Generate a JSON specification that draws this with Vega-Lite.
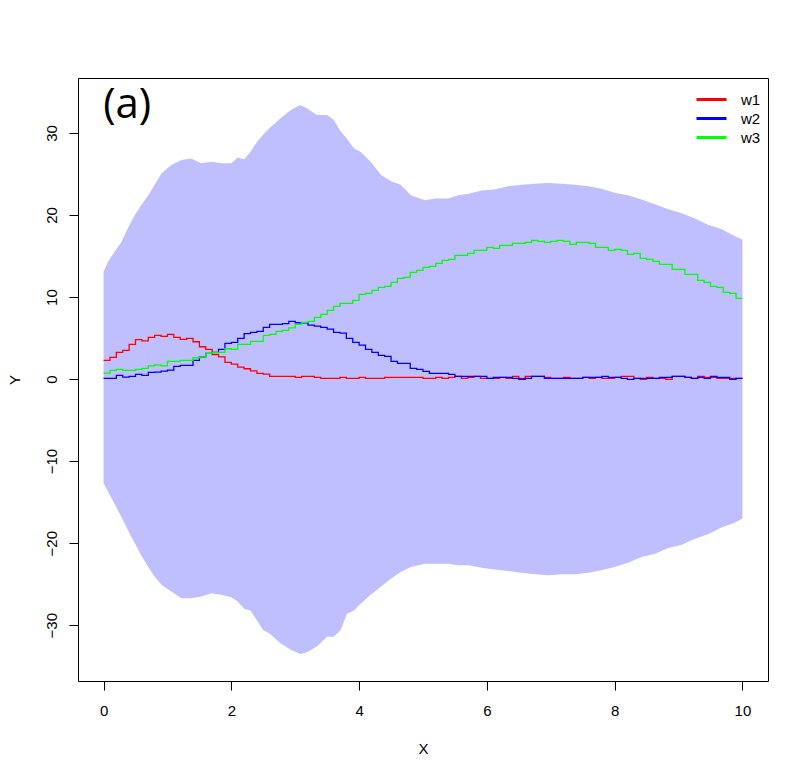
{
  "$schema": "https://vega.github.io/schema/vega-lite/v6.json",
  "width": 690,
  "height": 603,
  "autosize": "none",
  "padding": {"left": 78, "top": 78, "right": 40, "bottom": 98},
  "background": "white",
  "config": {
    "view": {"stroke": "black", "strokeWidth": 1},
    "font": "Liberation Sans",
    "axis": {"labelColor": "black", "titleColor": "black", "tickColor": "black", "labelFont": "Liberation Sans", "titleFont": "Liberation Sans", "titleFontWeight": "normal"}
  },
  "datasets": {
    "band": [
      {"x": 0, "hi": 13.1, "lo": -12.7},
      {"x": 0.07, "hi": 14.3, "lo": -13.7},
      {"x": 0.17, "hi": 15.5, "lo": -15.2},
      {"x": 0.28, "hi": 16.7, "lo": -16.8},
      {"x": 0.38, "hi": 18.4, "lo": -18.4},
      {"x": 0.49, "hi": 20.0, "lo": -20.0},
      {"x": 0.59, "hi": 21.2, "lo": -21.5},
      {"x": 0.7, "hi": 22.4, "lo": -22.9},
      {"x": 0.8, "hi": 23.7, "lo": -24.1},
      {"x": 0.91, "hi": 25.1, "lo": -25.1},
      {"x": 1.06, "hi": 26.1, "lo": -25.9},
      {"x": 1.22, "hi": 26.7, "lo": -26.7},
      {"x": 1.37, "hi": 26.9, "lo": -26.7},
      {"x": 1.53, "hi": 26.3, "lo": -26.5},
      {"x": 1.69, "hi": 26.5, "lo": -26.1},
      {"x": 1.84, "hi": 26.3, "lo": -26.3},
      {"x": 2.0, "hi": 26.3, "lo": -26.6},
      {"x": 2.1, "hi": 27.0, "lo": -27.1},
      {"x": 2.2, "hi": 26.8, "lo": -28.0},
      {"x": 2.3, "hi": 27.7, "lo": -28.2},
      {"x": 2.4, "hi": 28.9, "lo": -29.4},
      {"x": 2.5, "hi": 29.8, "lo": -30.6},
      {"x": 2.6, "hi": 30.6, "lo": -31.0},
      {"x": 2.77, "hi": 31.8, "lo": -32.2},
      {"x": 2.93, "hi": 32.8, "lo": -33.0},
      {"x": 3.08, "hi": 33.4, "lo": -33.5},
      {"x": 3.18, "hi": 33.0, "lo": -33.3},
      {"x": 3.34, "hi": 32.2, "lo": -32.6},
      {"x": 3.5, "hi": 32.2, "lo": -31.4},
      {"x": 3.6, "hi": 31.6, "lo": -31.4},
      {"x": 3.71, "hi": 30.2, "lo": -30.6},
      {"x": 3.81, "hi": 29.3, "lo": -28.6},
      {"x": 3.92, "hi": 28.1, "lo": -28.2},
      {"x": 4.02, "hi": 27.7, "lo": -27.4},
      {"x": 4.18, "hi": 26.5, "lo": -26.3},
      {"x": 4.34, "hi": 24.9, "lo": -25.3},
      {"x": 4.5, "hi": 24.1, "lo": -24.3},
      {"x": 4.65, "hi": 23.7, "lo": -23.5},
      {"x": 4.81, "hi": 22.4, "lo": -22.9},
      {"x": 5.03, "hi": 21.8, "lo": -22.5},
      {"x": 5.19, "hi": 22.0, "lo": -22.5},
      {"x": 5.4, "hi": 22.0, "lo": -22.5},
      {"x": 5.55, "hi": 22.4, "lo": -22.7},
      {"x": 5.71, "hi": 22.6, "lo": -22.7},
      {"x": 5.92, "hi": 23.0, "lo": -23.0},
      {"x": 6.12, "hi": 23.1, "lo": -23.2},
      {"x": 6.33, "hi": 23.5, "lo": -23.4},
      {"x": 6.54, "hi": 23.7, "lo": -23.6},
      {"x": 6.75, "hi": 23.8, "lo": -23.8},
      {"x": 6.96, "hi": 23.9, "lo": -23.9},
      {"x": 7.17, "hi": 23.8, "lo": -23.8},
      {"x": 7.38, "hi": 23.7, "lo": -23.8},
      {"x": 7.59, "hi": 23.5, "lo": -23.6},
      {"x": 7.79, "hi": 23.2, "lo": -23.3},
      {"x": 8.0, "hi": 22.7, "lo": -22.9},
      {"x": 8.21, "hi": 22.4, "lo": -22.4},
      {"x": 8.42, "hi": 21.9, "lo": -21.7},
      {"x": 8.63, "hi": 21.3, "lo": -21.3},
      {"x": 8.84, "hi": 20.7, "lo": -20.6},
      {"x": 9.05, "hi": 20.2, "lo": -20.2},
      {"x": 9.25, "hi": 19.6, "lo": -19.5},
      {"x": 9.46, "hi": 18.8, "lo": -18.9},
      {"x": 9.67, "hi": 18.3, "lo": -18.1},
      {"x": 9.88, "hi": 17.4, "lo": -17.5},
      {"x": 10.0, "hi": 17.0, "lo": -17.0}
    ],
    "w": [
      {"x": 0.0, "w1": 2.28, "w2": 0.08, "w3": 0.73},
      {"x": 0.1, "w1": 2.64, "w2": 0.08, "w3": 1.06},
      {"x": 0.2, "w1": 3.25, "w2": 0.45, "w3": 1.18},
      {"x": 0.3, "w1": 3.5, "w2": 0.24, "w3": 1.06},
      {"x": 0.4, "w1": 4.23, "w2": 0.33, "w3": 1.06},
      {"x": 0.5, "w1": 4.8, "w2": 0.57, "w3": 1.18},
      {"x": 0.6, "w1": 4.67, "w2": 0.45, "w3": 1.3},
      {"x": 0.7, "w1": 5.08, "w2": 0.81, "w3": 1.62},
      {"x": 0.8, "w1": 5.33, "w2": 0.85, "w3": 1.74},
      {"x": 0.9, "w1": 5.2, "w2": 0.98, "w3": 1.62},
      {"x": 1.0, "w1": 5.45, "w2": 1.1, "w3": 2.15},
      {"x": 1.1, "w1": 5.08, "w2": 1.55, "w3": 2.15},
      {"x": 1.2, "w1": 4.84, "w2": 1.67, "w3": 2.28},
      {"x": 1.3, "w1": 4.96, "w2": 1.67, "w3": 2.28},
      {"x": 1.4, "w1": 4.55, "w2": 2.28, "w3": 2.6},
      {"x": 1.5, "w1": 3.94, "w2": 2.72, "w3": 2.72},
      {"x": 1.6, "w1": 3.62, "w2": 3.13, "w3": 3.13},
      {"x": 1.7, "w1": 3.0, "w2": 3.25, "w3": 3.25},
      {"x": 1.8, "w1": 2.72, "w2": 3.62, "w3": 3.25},
      {"x": 1.9, "w1": 2.03, "w2": 4.35, "w3": 3.7},
      {"x": 2.0, "w1": 1.83, "w2": 4.47, "w3": 3.62},
      {"x": 2.1, "w1": 1.46, "w2": 4.96, "w3": 4.23},
      {"x": 2.2, "w1": 1.26, "w2": 5.53, "w3": 4.23},
      {"x": 2.3, "w1": 1.01, "w2": 5.69, "w3": 4.6},
      {"x": 2.4, "w1": 0.69, "w2": 5.82, "w3": 4.6},
      {"x": 2.5, "w1": 0.61, "w2": 6.3, "w3": 5.33},
      {"x": 2.6, "w1": 0.33, "w2": 6.67, "w3": 5.45},
      {"x": 2.7, "w1": 0.33, "w2": 6.67, "w3": 5.82},
      {"x": 2.8, "w1": 0.33, "w2": 6.75, "w3": 5.93},
      {"x": 2.9, "w1": 0.33, "w2": 7.03, "w3": 6.25},
      {"x": 3.0, "w1": 0.2, "w2": 6.87, "w3": 6.67},
      {"x": 3.1, "w1": 0.33, "w2": 6.87, "w3": 6.91},
      {"x": 3.2, "w1": 0.33, "w2": 6.58, "w3": 7.03},
      {"x": 3.3, "w1": 0.2, "w2": 6.46, "w3": 7.52},
      {"x": 3.4, "w1": 0.08, "w2": 6.3, "w3": 7.89},
      {"x": 3.5, "w1": 0.08, "w2": 6.1, "w3": 8.38},
      {"x": 3.6, "w1": 0.08, "w2": 5.69, "w3": 8.86},
      {"x": 3.7, "w1": 0.2, "w2": 5.61, "w3": 9.23},
      {"x": 3.8, "w1": 0.08, "w2": 4.96, "w3": 9.23},
      {"x": 3.9, "w1": 0.08, "w2": 4.47, "w3": 9.6},
      {"x": 4.0, "w1": 0.2, "w2": 4.15, "w3": 10.33},
      {"x": 4.1, "w1": 0.08, "w2": 3.62, "w3": 10.45},
      {"x": 4.2, "w1": 0.08, "w2": 3.25, "w3": 10.82},
      {"x": 4.3, "w1": 0.08, "w2": 2.89, "w3": 11.18},
      {"x": 4.4, "w1": 0.2, "w2": 2.77, "w3": 11.3},
      {"x": 4.5, "w1": 0.2, "w2": 2.16, "w3": 11.79},
      {"x": 4.6, "w1": 0.2, "w2": 1.91, "w3": 12.28},
      {"x": 4.7, "w1": 0.2, "w2": 1.91, "w3": 12.4},
      {"x": 4.8, "w1": 0.2, "w2": 1.3, "w3": 13.01},
      {"x": 4.9, "w1": 0.2, "w2": 1.18, "w3": 13.25},
      {"x": 5.0, "w1": 0.08, "w2": 0.94, "w3": 13.62},
      {"x": 5.1, "w1": 0.08, "w2": 0.69, "w3": 13.74},
      {"x": 5.2, "w1": 0.2, "w2": 0.69, "w3": 14.11},
      {"x": 5.3, "w1": 0.08, "w2": 0.69, "w3": 14.47},
      {"x": 5.4, "w1": 0.2, "w2": 0.57, "w3": 14.6},
      {"x": 5.5, "w1": 0.33, "w2": 0.33, "w3": 15.09},
      {"x": 5.6, "w1": 0.08, "w2": 0.33, "w3": 15.09},
      {"x": 5.7, "w1": 0.2, "w2": 0.33, "w3": 15.33},
      {"x": 5.8, "w1": 0.33, "w2": 0.33, "w3": 15.7},
      {"x": 5.9, "w1": 0.08, "w2": 0.33, "w3": 15.7},
      {"x": 6.0, "w1": 0.08, "w2": 0.08, "w3": 16.06},
      {"x": 6.1, "w1": 0.08, "w2": 0.2, "w3": 15.94},
      {"x": 6.2, "w1": 0.2, "w2": 0.2, "w3": 16.3},
      {"x": 6.3, "w1": 0.08, "w2": 0.2, "w3": 16.3},
      {"x": 6.4, "w1": 0.33, "w2": 0.08, "w3": 16.55},
      {"x": 6.5, "w1": 0.08, "w2": -0.04, "w3": 16.55},
      {"x": 6.6, "w1": 0.33, "w2": 0.08, "w3": 16.67},
      {"x": 6.7, "w1": 0.33, "w2": 0.33, "w3": 16.91},
      {"x": 6.8, "w1": 0.33, "w2": 0.33, "w3": 16.79},
      {"x": 6.9, "w1": 0.2, "w2": 0.08, "w3": 16.67},
      {"x": 7.0, "w1": 0.08, "w2": 0.08, "w3": 16.79},
      {"x": 7.1, "w1": 0.08, "w2": 0.08, "w3": 16.91},
      {"x": 7.2, "w1": 0.2, "w2": 0.08, "w3": 16.79},
      {"x": 7.3, "w1": 0.08, "w2": 0.08, "w3": 16.43},
      {"x": 7.4, "w1": 0.08, "w2": 0.08, "w3": 16.67},
      {"x": 7.5, "w1": 0.2, "w2": 0.2, "w3": 16.67},
      {"x": 7.6, "w1": 0.08, "w2": 0.2, "w3": 16.55},
      {"x": 7.7, "w1": 0.2, "w2": 0.2, "w3": 16.06},
      {"x": 7.8, "w1": 0.08, "w2": 0.33, "w3": 16.06},
      {"x": 7.9, "w1": 0.08, "w2": 0.2, "w3": 15.7},
      {"x": 8.0, "w1": 0.2, "w2": 0.2, "w3": 15.82},
      {"x": 8.1, "w1": 0.33, "w2": 0.08, "w3": 15.7},
      {"x": 8.2, "w1": 0.33, "w2": -0.04, "w3": 15.21},
      {"x": 8.3, "w1": 0.08, "w2": 0.08, "w3": 15.33},
      {"x": 8.4, "w1": -0.04, "w2": 0.08, "w3": 14.72},
      {"x": 8.5, "w1": 0.2, "w2": 0.08, "w3": 14.6},
      {"x": 8.6, "w1": 0.08, "w2": 0.08, "w3": 14.35},
      {"x": 8.7, "w1": 0.08, "w2": 0.2, "w3": 13.99},
      {"x": 8.8, "w1": -0.04, "w2": 0.2, "w3": 13.99},
      {"x": 8.9, "w1": 0.33, "w2": 0.33, "w3": 13.38},
      {"x": 9.0, "w1": 0.33, "w2": 0.33, "w3": 13.38},
      {"x": 9.1, "w1": 0.2, "w2": 0.2, "w3": 12.77},
      {"x": 9.2, "w1": 0.08, "w2": 0.08, "w3": 12.77},
      {"x": 9.3, "w1": 0.33, "w2": 0.2, "w3": 12.04},
      {"x": 9.4, "w1": 0.2, "w2": 0.08, "w3": 11.79},
      {"x": 9.5, "w1": 0.2, "w2": 0.33, "w3": 11.3},
      {"x": 9.6, "w1": 0.08, "w2": 0.2, "w3": 11.18},
      {"x": 9.7, "w1": 0.08, "w2": 0.2, "w3": 10.57},
      {"x": 9.8, "w1": 0.08, "w2": -0.04, "w3": 10.45},
      {"x": 9.9, "w1": 0.08, "w2": 0.08, "w3": 9.84},
      {"x": 10.0, "w1": 0.08, "w2": 0.08, "w3": 9.84}
    ]
  },
  "layer": [
    {
      "data": {"name": "band"},
      "mark": {"type": "area", "color": "#BFBFFF", "opacity": 1},
      "encoding": {
        "x": {
          "field": "x", "type": "quantitative",
          "scale": {"domain": [-0.4, 10.4], "nice": false, "zero": false},
          "axis": {"values": [0, 2, 4, 6, 8, 10], "format": "d", "domain": false, "grid": false, "tickSize": 9, "labelPadding": 13, "labelFontSize": 15, "title": "X", "titleFontSize": 15, "titlePadding": 23}
        },
        "y": {
          "field": "hi", "type": "quantitative",
          "scale": {"domain": [-36.8, 36.7], "nice": false, "zero": false},
          "axis": {"values": [-30, -20, -10, 0, 10, 20, 30], "format": "d", "domain": false, "grid": false, "tickSize": 9, "labelAngle": -90, "labelPadding": 10, "labelFontSize": 15, "title": "Y", "titleFontSize": 15, "titlePadding": 22}
        },
        "y2": {"field": "lo"}
      }
    },
    {
      "data": {"name": "w"},
      "transform": [{"fold": ["w1", "w2", "w3"], "as": ["series", "value"]}],
      "mark": {"type": "line", "interpolate": "step-after", "strokeWidth": 1.3},
      "encoding": {
        "x": {"field": "x", "type": "quantitative"},
        "y": {"field": "value", "type": "quantitative"},
        "color": {
          "field": "series", "type": "nominal",
          "scale": {"domain": ["w1", "w2", "w3"], "range": ["#FF0000", "#0000FF", "#00FF00"]},
          "legend": {"title": null, "orient": "none", "legendX": 626, "legendY": 14, "padding": 0, "symbolType": "M-3,0H3", "symbolStrokeWidth": 3, "symbolSize": 100, "labelFontSize": 15, "labelOffset": 22, "rowPadding": 3, "labelColor": "black"}
        }
      }
    },
    {
      "data": {"values": [{}]},
      "mark": {"type": "text", "text": "(a)", "fontSize": 42, "font": "Open Sans", "color": "black", "baseline": "middle", "align": "center"},
      "encoding": {"x": {"datum": 0.37}, "y": {"datum": 33.4}}
    }
  ]
}
